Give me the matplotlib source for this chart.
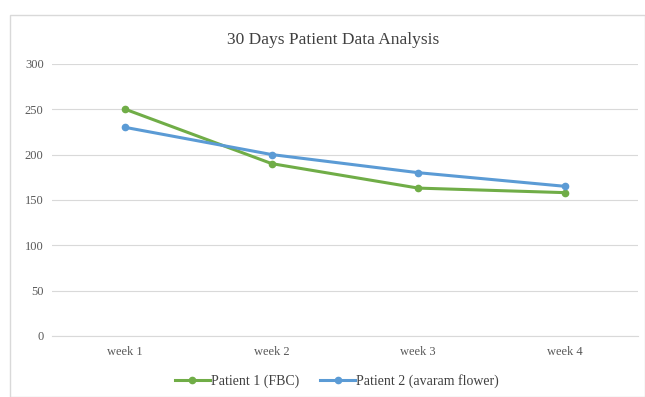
import matplotlib
matplotlib.use("Agg")
import matplotlib.pyplot as plt
from matplotlib.patches import Rectangle
import numpy as np

weeks = ["week 1", "week 2", "week 3", "week 4"]
patient1 = [250, 190, 163, 158]
patient2 = [230, 200, 180, 165]
labels = ["Patient 1 (FBC)", "Patient 2 (avaram flower)"]
yticks = [0, 50, 100, 150, 200, 250, 300]

plt.rcParams["font.family"] = ["Liberation Serif", "DejaVu Serif"]

fig = plt.figure(figsize=(6.45, 3.97), dpi=100)
fig.patches.append(Rectangle((10 / 645, 0), 1 - 10 / 645, 1 - 15 / 397,
                             transform=fig.transFigure, fill=False,
                             edgecolor="#d9d9d9", linewidth=1.0))

ax = fig.add_axes([52 / 645, 0.154, 586 / 645, 0.685])
x = np.arange(len(weeks))
ax.plot(x, patient1, color="#70ad47", linewidth=2.2, marker="o", markersize=4.5,
        label=labels[0], zorder=3)
ax.plot(x, patient2, color="#5b9bd5", linewidth=2.2, marker="o", markersize=4.5,
        label=labels[1], zorder=3)

ax.set_xlim(-0.5, 3.5)
ax.set_ylim(0, 300)
ax.set_yticks(yticks)
ax.set_xticks(x)
ax.set_xticklabels(weeks)
ax.tick_params(axis="both", length=0, labelsize=9, colors="#595959")
ax.tick_params(axis="y", pad=6)
ax.tick_params(axis="x", pad=7)
ax.grid(axis="y", color="#d9d9d9", linewidth=0.8)
for s in ax.spines.values():
    s.set_visible(False)
ax.spines["bottom"].set_visible(True)
ax.spines["bottom"].set_color("#d9d9d9")

fig.text(333 / 645, 1 - 40 / 397, "30 Days Patient Data Analysis", ha="center",
         va="center", fontsize=12.5, color="#404040")

fig.legend(loc="center", bbox_to_anchor=(337 / 645, 1 - 381 / 397), ncol=2,
           frameon=False, fontsize=10, handlelength=2.5, columnspacing=1.5,
           labelcolor="#404040", handletextpad=0.1)

fig.savefig("out.png", dpi=100)
